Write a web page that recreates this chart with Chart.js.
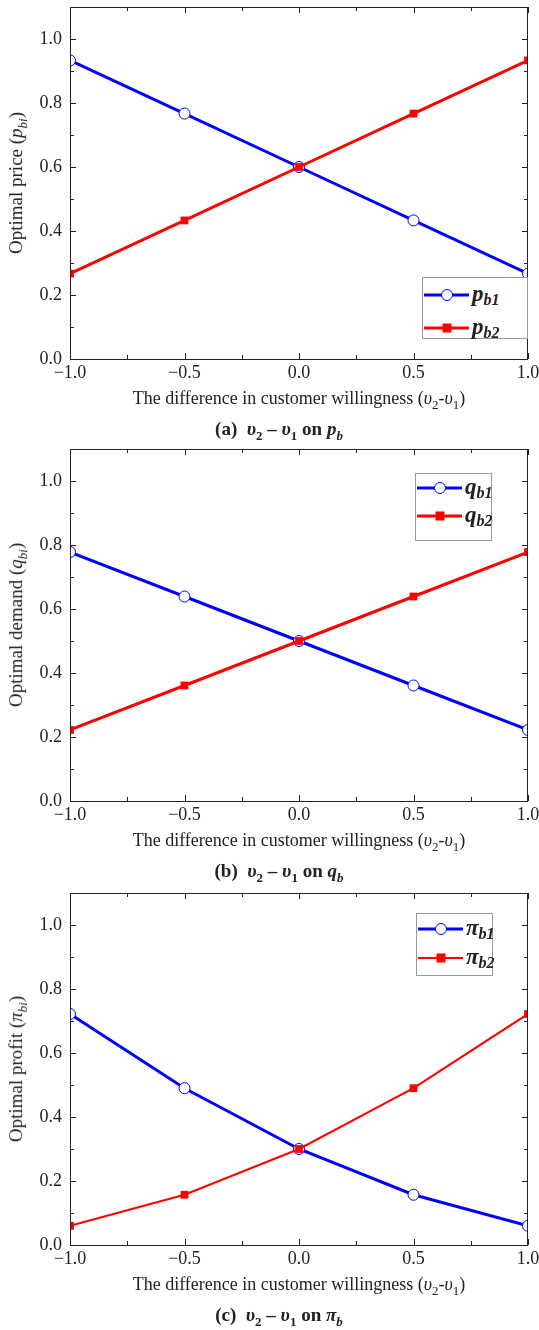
<!DOCTYPE html>
<html>
<head>
<meta charset="utf-8">
<script src="https://cdn.jsdelivr.net/npm/chart.js@4"></script>
<style>
  body { margin: 0; background: #fff; font-family: "Liberation Serif", serif; color: #222; }
  #page { position: relative; width: 539px; height: 1330px; overflow: hidden; }
  .panel { position: absolute; left: 0; width: 539px; height: 443px; }
  .panel canvas { position: absolute; left: 0; top: 0; }
  .xtitle { position: absolute; left: 70px; width: 458px; text-align: center; font-size: 18px; white-space: nowrap; }
  .caption { position: absolute; left: 50px; width: 458px; text-align: center; font-size: 19px; font-weight: bold; white-space: nowrap; }
  .ytitle { position: absolute; left: 18px; top: 183px; font-size: 19px; white-space: nowrap;
            transform: translate(-50%, -50%) rotate(-90deg); }
  .legend { position: absolute; border: 1px solid #999; background: #fff; box-sizing: border-box; }
  .row { position: absolute; left: 1px; height: 28px; margin-top: -14px; display: flex; align-items: center; }
  .sample { position: relative; width: 45px; height: 12px; margin-right: 3px; }
  .sample .ln { position: absolute; left: 0; right: 0; top: 50%; transform: translateY(-50%); }
  .sample .mk { position: absolute; left: 50%; top: 50%; transform: translate(-50%, -50%); }
  .lab { font-weight: bold; font-style: italic; font-size: 23px; }
  .lab sub { font-size: 16px; vertical-align: -4px; }
  sub { font-size: 13px; }
</style>
</head>
<body>
<div id="page"></div>
<script>
// x positions: difference in customer willingness (v2 - v1)
const xValues = [-1.0, -0.5, 0.0, 0.5, 1.0];

// panel (a): optimal price
const pb1 = [0.933, 0.767, 0.600, 0.433, 0.267];
const pb2 = [0.267, 0.433, 0.600, 0.767, 0.933];

// panel (b): optimal demand
const qb1 = [0.778, 0.639, 0.500, 0.361, 0.222];
const qb2 = [0.222, 0.361, 0.500, 0.639, 0.778];

// panel (c): optimal profit
const pib1 = [0.722, 0.490, 0.300, 0.157, 0.060];
const pib2 = [0.060, 0.157, 0.300, 0.490, 0.722];

const xMajor = [-1.0, -0.5, 0.0, 0.5, 1.0];
const xMinor = [-0.75, -0.25, 0.25, 0.75];
const yMajor = [0.0, 0.2, 0.4, 0.6, 0.8, 1.0];
const yMinor = [0.1, 0.3, 0.5, 0.7, 0.9];

const BLUE = '#0000ff';
const RED = '#ff0000';
const FONT = '"Liberation Serif", "Times New Roman", serif';

const panels = [
  { top: 0, s1: pb1, s2: pb2, sym: 'p', ytitle: 'Optimal price', tag: '(a)', w2: 3,
    legend: { left: 422, top: 277, w: 106, h: 62, r1: 17, r2: 50 } },
  { top: 442, s1: qb1, s2: qb2, sym: 'q', ytitle: 'Optimal demand', tag: '(b)', w2: 3,
    legend: { left: 415, top: 31, w: 77, h: 68, r1: 14, r2: 42 } },
  { top: 886, s1: pib1, s2: pib2, sym: 'π', ytitle: 'Optimal profit', tag: '(c)', w2: 2,
    legend: { left: 416, top: 27, w: 77, h: 63, r1: 15, r2: 44 } },
];

// frame + inward ticks on all four sides
const framePlugin = {
  id: 'frame',
  afterDraw(chart) {
    const { ctx, chartArea: a, scales } = chart;
    const x = scales.x, y = scales.y;
    ctx.save();
    ctx.strokeStyle = '#222';
    ctx.lineWidth = 1;
    ctx.strokeRect(a.left + 0.5, a.top + 0.5, a.right - a.left - 1, a.bottom - a.top);
    ctx.beginPath();
    const tick = (vals, len) => {
      vals.forEach(v => {
        const px = Math.round(x.getPixelForValue(v)) + 0.5;
        ctx.moveTo(px, a.bottom); ctx.lineTo(px, a.bottom - len);
        ctx.moveTo(px, a.top); ctx.lineTo(px, a.top + len);
      });
    };
    const ytick = (vals, len) => {
      vals.forEach(v => {
        const py = Math.round(y.getPixelForValue(v)) + 0.5;
        ctx.moveTo(a.left, py); ctx.lineTo(a.left + len, py);
        ctx.moveTo(a.right, py); ctx.lineTo(a.right - len, py);
      });
    };
    tick(xMajor, 6); tick(xMinor, 4);
    ytick(yMajor, 6); ytick(yMinor, 4);
    ctx.stroke();
    ctx.restore();
  }
};

const fmt = v => (v < 0 ? '\u2212' : '') + Math.abs(v).toFixed(1);

const page = document.getElementById('page');

panels.forEach(p => {
  const div = document.createElement('div');
  div.className = 'panel';
  div.style.top = p.top + 'px';
  const canvas = document.createElement('canvas');
  canvas.width = 539; canvas.height = 443;
  canvas.style.width = '539px'; canvas.style.height = '443px';
  div.appendChild(canvas);

  const L = p.legend;
  div.insertAdjacentHTML('beforeend',
    `<div class="ytitle">${p.ytitle} (<i>${p.sym}</i><sub><i>bi</i></sub>)</div>` +
    `<div class="xtitle" style="top:388px">The difference in customer willingness (<i>υ</i><sub>2</sub>-<i>υ</i><sub>1</sub>)</div>` +
    `<div class="caption" style="top:418px">${p.tag}&nbsp; <i>υ</i><sub>2</sub> – <i>υ</i><sub>1</sub> on <i>${p.sym}</i><sub><i>b</i></sub></div>` +
    `<div class="legend" style="left:${L.left}px;top:${L.top}px;width:${L.w}px;height:${L.h}px">` +
      `<div class="row" style="top:${L.r1}px"><div class="sample"><div class="ln" style="height:3px;background:${BLUE}"></div>` +
        `<div class="mk" style="width:12px;height:12px;border:1px solid ${BLUE};border-radius:50%;background:#fff;box-sizing:border-box"></div></div>` +
        `<span class="lab">${p.sym}<sub>b1</sub></span></div>` +
      `<div class="row" style="top:${L.r2}px"><div class="sample"><div class="ln" style="height:${p.w2}px;background:${RED}"></div>` +
        `<div class="mk" style="width:9px;height:9px;background:${RED}"></div></div>` +
        `<span class="lab">${p.sym}<sub>b2</sub></span></div>` +
    `</div>`);
  page.appendChild(div);

  new Chart(canvas.getContext('2d'), {
    type: 'line',
    data: {
      datasets: [
        {
          data: xValues.map((x, i) => ({ x, y: p.s1[i] })),
          borderColor: BLUE, borderWidth: 3,
          pointStyle: 'circle', pointRadius: 5.5, pointBorderWidth: 1,
          pointBackgroundColor: '#fff', pointBorderColor: BLUE,
          order: 1,
        },
        {
          data: xValues.map((x, i) => ({ x, y: p.s2[i] })),
          borderColor: RED, borderWidth: p.w2,
          pointStyle: 'rect', pointRadius: 5.5, pointBorderWidth: 0,
          pointBackgroundColor: RED, pointBorderColor: RED,
          order: 0,
        },
      ],
    },
    options: {
      responsive: false,
      animation: false,
      layout: { padding: { top: 7, right: 0, left: 0, bottom: 0 } },
      plugins: { legend: { display: false }, tooltip: { enabled: false } },
      scales: {
        x: {
          type: 'linear', min: -1, max: 1,
          grid: { display: false, drawTicks: false }, border: { display: false },
          afterFit: s => { s.height = 84; s.paddingRight = 11; s.paddingLeft = 0; },
          afterBuildTicks: s => { s.ticks = xMajor.map(v => ({ value: v })); },
          ticks: { padding: 3, maxRotation: 0, autoSkip: false, color: '#222',
                   font: { family: FONT, size: 18 }, callback: v => fmt(v) },
        },
        y: {
          min: 0, max: 1.1,
          grid: { display: false, drawTicks: false }, border: { display: false },
          afterFit: s => { s.width = 70; s.paddingTop = 0; s.paddingBottom = 0; },
          afterBuildTicks: s => { s.ticks = yMajor.map(v => ({ value: v })); },
          ticks: { padding: 8, color: '#222',
                   font: { family: FONT, size: 18 }, callback: v => fmt(v) },
        },
      },
    },
    plugins: [framePlugin],
  });
});
</script>
</body>
</html>
